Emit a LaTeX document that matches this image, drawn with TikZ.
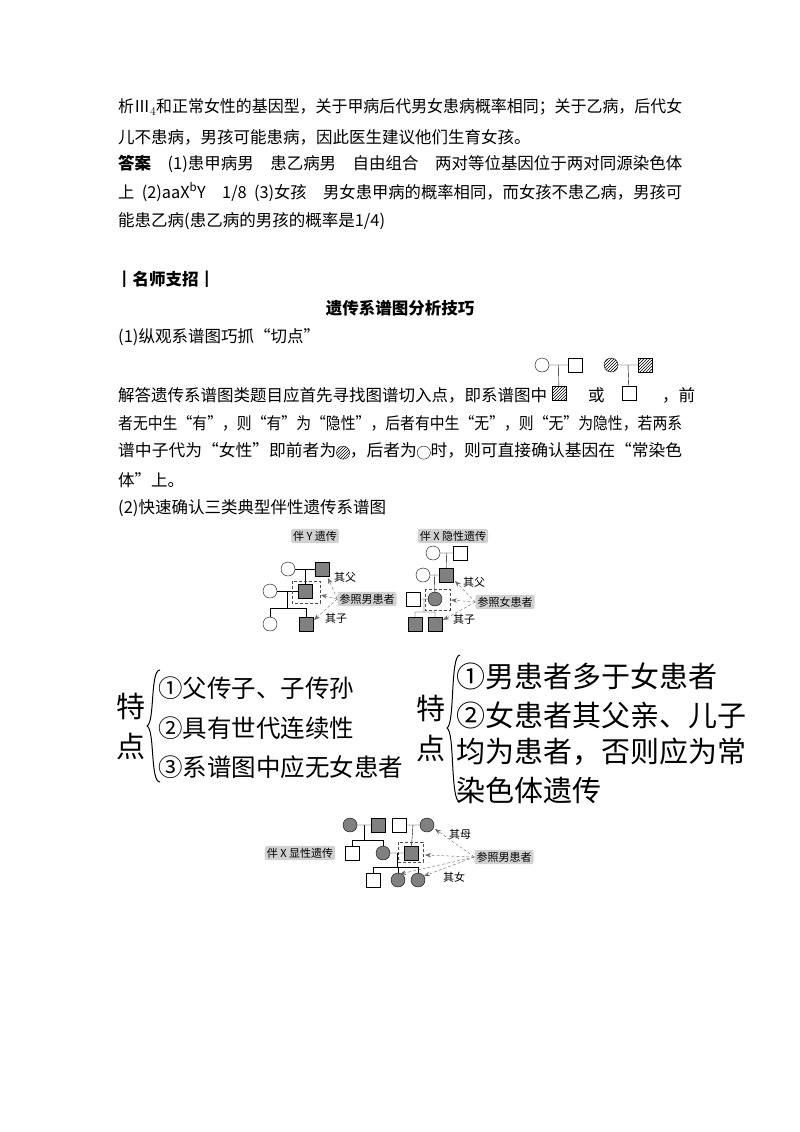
\documentclass[tikz,border=0pt]{standalone}
\usepackage{fontspec}
\usepackage{graphicx}
\setmainfont{Noto Sans CJK SC}
\usetikzlibrary{patterns,calc,arrows.meta}
\tikzset{
  fem/.style={circle,draw,minimum size=14pt,inner sep=0pt},
  mal/.style={rectangle,draw,minimum size=14pt,inner sep=0pt},
  ill/.style={fill=black!50},
  hat/.style={pattern=north east lines},
  txt/.style={anchor=west,inner sep=0pt,font=\fontsize{16.5}{20}\selectfont},
  big/.style={anchor=west,inner sep=0pt,font=\fontsize{24.5}{30}\selectfont},
  bigr/.style={anchor=west,inner sep=0pt,font=\fontsize{29}{30}\selectfont},
  tag/.style={fill=black!18,rounded corners=2pt,inner sep=2pt,font=\fontsize{11}{13}\selectfont},
  lab/.style={inner sep=1pt,font=\fontsize{11}{13}\selectfont},
  hint/.style={densely dashed,black!60,-{Stealth[length=6pt]}},
  frame/.style={densely dashed,black!70}
}
\newcommand{\hcirc}{\tikz[baseline=-4pt]\draw[pattern=north east lines] (0,0) circle (6.5pt);}
\newcommand{\ocirc}{\tikz[baseline=-4pt]\draw (0,0) circle (6.5pt);}
\newcommand{\fitline}[1]{\resizebox{564pt}{\height}{#1}}
\begin{document}
\begin{tikzpicture}[x=1pt,y=-1pt]
\useasboundingbox (0,0) rectangle (800,1132);

% text lines
\node[txt] (l1) at (118,107) {\fitline{析Ⅲ$_4$和正常女性的基因型，关于甲病后代男女患病概率相同；关于乙病，后代女}};
\node[txt] (l2) at (118,137) {儿不患病，男孩可能患病，因此医生建议他们生育女孩。};
\node[txt] (l3) at (118,164) {\fitline{\textbf{答案}\quad (1)患甲病男\quad 患乙病男\quad 自由组合\quad 两对等位基因位于两对同源染色体}};
\node[txt] (l4) at (118,192) {\fitline{上\ \ (2)aaX$^{\mathrm b}$Y\quad 1/8\ \ (3)女孩\quad 男女患甲病的概率相同，而女孩不患乙病，男孩可}};
\node[txt] (l5) at (118,221) {能患乙病(患乙病的男孩的概率是1/4)};
\node[txt] (tip) at (116,279) {\textbf{┃名师支招┃}};
\node[txt,anchor=center] (head) at (400,308) {\textbf{遗传系谱图分析技巧}};
\node[txt] (p1) at (118,337) {(1)纵观系谱图巧抓“切点”};
\node[txt] (l6) at (118,395) {解答遗传系谱图类题目应首先寻找图谱切入点，即系谱图中};
\node[txt] (l6b) at (588,395) {或};
\node[txt] (l6c) at (662,395) {，前};
\node[txt] (l7) at (118,423) {\fitline{者无中生“有”，则“有”为“隐性”，后者有中生“无”，则“无”为隐性，若两系}};
\node[txt] (l8) at (118,451) {\fitline{谱中子代为“女性”即前者为\hcirc，后者为\ocirc 时，则可直接确认基因在“常染色}};
\node[txt] (l9) at (118,480) {体”上。};
\node[txt] (p2) at (118,508) {(2)快速确认三类典型伴性遗传系谱图};

% cut points
\node[fem] (a1) at (542,365) {};
\node[mal] (a2) at (575,365) {};
\node[mal,hat] (a3) at (559,393) {};
\draw (a1) -- (a2) ($(a1)!0.5!(a2)$) -- (a3);
\node[fem,hat] (b1) at (611,365) {};
\node[mal,hat] (b2) at (645,365) {};
\node[mal] (b3) at (629,393) {};
\draw (b1) -- (b2) ($(b1)!0.5!(b2)$) -- (b3);

% Y linked
\node[tag] (ty) at (315,536) {伴 Y 遗传};
\node[fem] (y1) at (288,569) {};
\node[mal,ill] (y2) at (322,569) {};
\node[fem] (y3) at (270,591) {};
\node[mal,ill] (y4) at (305,591) {};
\node[fem] (y5) at (270,624) {};
\node[mal,ill] (y6) at (306,624) {};
\draw (y1) -- (y2) (y3) -- (y4) (305,569) -- (y4);
\draw (287.5,591) -- (287.5,608) (270,608) -- (306,608) (270,608) -- (y5) (306,608) -- (y6);
\draw[frame] (292,581) rectangle (320,603);
\node[lab] (yf) at (345,577) {其父};
\node[tag] (yr) at (367,599) {参照男患者};
\node[lab] (ys) at (336,618) {其子};
\draw[hint] (yr.west) -- (328,578);
\draw[hint] (yr.west) -- (321,595);
\draw[hint] (yr.west) -- (314,620);

% X recessive
\node[tag] (tr) at (453,536) {伴 X 隐性遗传};
\node[fem] (r1) at (433,553) {};
\node[mal] (r2) at (460,553) {};
\node[fem] (r3) at (423,575) {};
\node[mal,ill] (r4) at (446,575) {};
\node[mal] (r5) at (413,599) {};
\node[fem,ill] (r6) at (435,599) {};
\node[mal,ill] (r7) at (415,624) {};
\node[mal,ill] (r8) at (435,624) {};
\draw (r1) -- (r2) (r3) -- (r4) (r5) -- (r6) (446.5,553) -- (r4);
\draw (434.5,575) -- (r6) (424,599) -- (424,612) (415,612) -- (435,612) (415,612) -- (r7) (435,612) -- (r8);
\draw[frame] (425,589) rectangle (450,610);
\node[lab] (rf) at (474,582) {其父};
\node[tag] (rr) at (505,602) {参照女患者};
\node[lab] (rs) at (464,619) {其子};
\draw[hint] (rr.west) -- (455,581);
\draw[hint] (rr.west) -- (451,600);
\draw[hint] (rr.west) -- (443,620);

% big notes
\node[bigr] (t1) at (116,706) {特};
\node[bigr] (t2) at (116,746) {点};
\draw[line width=1pt] (160,670) .. controls (150,670) and (155,722) .. (147,726) .. controls (155,730) and (150,782) .. (160,782);
\node[big] (y1t) at (158,688) {①父传子、子传孙};
\node[big] (y2t) at (158,728) {②具有世代连续性};
\node[big] (y3t) at (158,767) {③系谱图中应无女患者};
\node[bigr] (t3) at (416,708) {特};
\node[bigr] (t4) at (416,748) {点};
\draw[line width=1pt] (460,655) .. controls (450,655) and (455,724) .. (447,728) .. controls (455,732) and (450,802) .. (460,802);
\node[bigr] (r1t) at (456,676) {①男患者多于女患者};
\node[bigr] (r2t) at (456,715) {②女患者其父亲、儿子};
\node[bigr] (r3t) at (456,752) {均为患者，否则应为常};
\node[bigr] (r4t) at (456,790) {染色体遗传};

% X dominant
\node[tag] (td) at (300,853) {伴 X 显性遗传};
\node[fem,ill] (d1) at (350,825) {};
\node[mal,ill] (d2) at (378,825) {};
\node[mal] (d3) at (399,825) {};
\node[fem,ill] (d4) at (427,825) {};
\node[mal] (d5) at (352,853) {};
\node[fem,ill] (d6) at (383,853) {};
\node[mal,ill] (d7) at (411,853) {};
\node[mal] (d8) at (373,880) {};
\node[fem,ill] (d9) at (398,880) {};
\node[fem,ill] (d10) at (418,880) {};
\draw (d1) -- (d2) (d3) -- (d4) (d6) -- (d7) (413,825) -- (d7);
\draw (364,825) -- (364,840) (352,840) -- (383,840) (352,840) -- (d5) (383,840) -- (d6);
\draw (397,853) -- (397,867) (373,867) -- (418,867) (373,867) -- (d8) (398,867) -- (d9) (418,867) -- (d10);
\draw[frame] (398,842) rectangle (423,862);
\node[lab] (dm) at (460,834) {其母};
\node[tag] (dr) at (504,857) {参照男患者};
\node[lab] (dd) at (454,877) {其女};
\draw[hint] (dr.west) -- (435,829);
\draw[hint] (dr.west) -- (425,855);
\draw[hint] (dr.west) -- (400,874);
\draw[hint] (dr.west) -- (424,876);
\end{tikzpicture}
\end{document}
